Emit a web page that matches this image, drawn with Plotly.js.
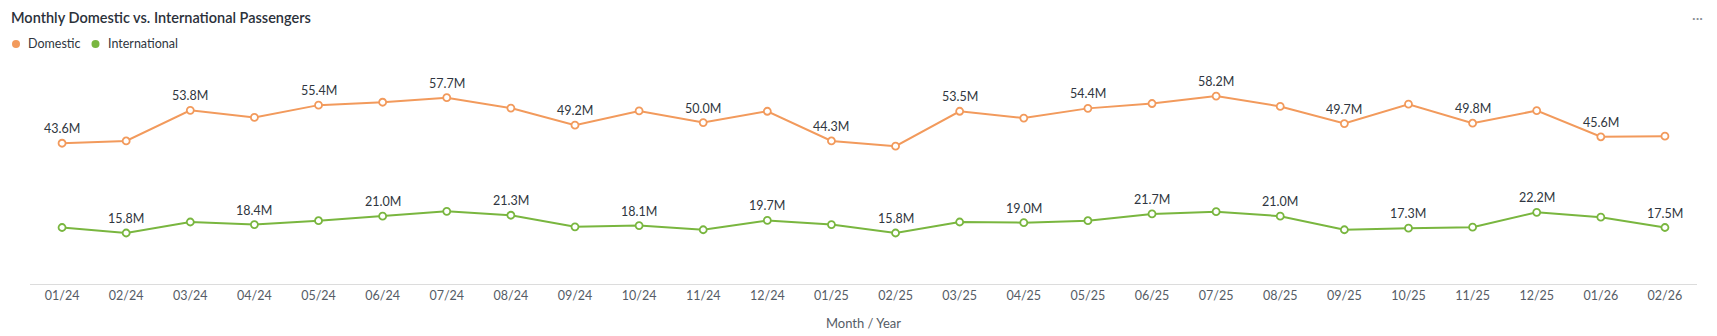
<!DOCTYPE html>
<html>
<head>
<meta charset="utf-8">
<script src="https://cdn.plot.ly/plotly-3.0.1.min.js"></script>
<style>
html,body{margin:0;padding:0;background:#fff;}
#chart{width:1717px;height:336px;}
</style>
</head>
<body>
<div id="chart"></div>
<script>
const months = ["01/24","02/24","03/24","04/24","05/24","06/24","07/24","08/24","09/24","10/24","11/24","12/24",
                "01/25","02/25","03/25","04/25","05/25","06/25","07/25","08/25","09/25","10/25","11/25","12/25",
                "01/26","02/26"];
const domestic = [43.6, 44.3, 53.8, 51.6, 55.4, 56.3, 57.7, 54.5, 49.2, 53.6, 50.0, 53.5, 44.3,
                  42.7, 53.5, 51.4, 54.4, 55.9, 58.2, 55.0, 49.7, 55.7, 49.8, 53.7, 45.6, 45.8];
const international = [17.5, 15.8, 19.2, 18.4, 19.6, 21.0, 22.5, 21.3, 17.7, 18.1, 16.8, 19.7, 18.4,
                       15.8, 19.2, 19.0, 19.6, 21.7, 22.4, 21.0, 16.8, 17.3, 17.6, 22.2, 20.7, 17.5];
const seriesNames = ["Domestic", "International"];
const colors = ["#f29a5c", "#79b63f"];

const W = 1717, H = 336;
const margin = {l: 30, r: 20, t: 58, b: 52, pad: 0};
const plotW = W - margin.l - margin.r;
const plotH = H - margin.t - margin.b;
const px = x => (x - margin.l) / plotW;
const py = y => (H - margin.b - y) / plotH;

const font = "Lato, 'Open Sans', sans-serif";

const traces = [domestic, international].map((vals, k) => ({
  type: "scatter",
  mode: "lines+markers",
  name: seriesNames[k],
  x: months,
  y: vals,
  line: {color: colors[k], width: 2},
  marker: {symbol: "circle", size: 7, color: "#ffffff", line: {color: colors[k], width: 1.8}},
  cliponaxis: false,
  hoverinfo: "x+y+name"
}));

// value labels on alternating points (Domestic: even months, International: odd months)
const annotations = [];
[domestic, international].forEach((vals, k) => {
  vals.forEach((v, i) => {
    if (i % 2 !== k) return;
    annotations.push({
      xref: "x", yref: "y", x: months[i], y: v,
      text: v.toFixed(1) + "M", showarrow: false,
      xanchor: "center", yanchor: "middle", yshift: 14.5,
      font: {family: font, size: 12.5, color: "#2f3640"}
    });
  });
});

const legendItems = [
  {name: seriesNames[0], color: colors[0], mx: 16, tx: 26},
  {name: seriesNames[1], color: colors[1], mx: 95.5, tx: 105.5}
];
const legendY = 44;

const shapes = legendItems.map(it => ({
  type: "circle", xref: "paper", yref: "paper",
  xsizemode: "pixel", ysizemode: "pixel",
  xanchor: px(it.mx), yanchor: py(legendY),
  x0: -4, x1: 4, y0: -4, y1: 4,
  fillcolor: it.color, line: {width: 0}
}));

legendItems.forEach(it => annotations.push({
  xref: "paper", yref: "paper", x: px(it.tx), y: py(legendY),
  xanchor: "left", yanchor: "middle", showarrow: false,
  text: it.name, font: {family: font, size: 12.5, color: "#2f3640"}
}));
annotations.push({
  xref: "paper", yref: "paper", x: px(1697), y: py(18),
  xanchor: "center", yanchor: "middle", showarrow: false,
  text: "···", font: {family: font, size: 14, color: "#8a8f96"}
});

const layout = {
  width: W, height: H,
  margin: margin,
  paper_bgcolor: "#ffffff",
  plot_bgcolor: "#ffffff",
  showlegend: false,
  title: {
    text: "Monthly Domestic vs. International Passengers",
    xref: "container", yref: "container",
    x: 11 / W, xanchor: "left",
    y: 1 - 18 / H, yanchor: "middle",
    font: {family: font, size: 14.5, color: "#2b313a", weight: 600}
  },
  xaxis: {
    type: "category",
    range: [-0.5, months.length - 0.5],
    showgrid: false, zeroline: false,
    showline: true, linecolor: "#dcdcdc", linewidth: 1,
    ticks: "",
    tickfont: {family: font, size: 12.5, color: "#555c66"},
    title: {text: "Month / Year", font: {family: font, size: 13, color: "#555c66"}, standoff: 16},
    fixedrange: true
  },
  yaxis: {
    range: [0, 70],
    showgrid: false, zeroline: false, showline: false,
    showticklabels: false, ticks: "",
    fixedrange: true
  },
  shapes: shapes,
  annotations: annotations,
  hovermode: "closest"
};

Plotly.newPlot("chart", traces, layout, {displayModeBar: false, responsive: false});
</script>
</body>
</html>
